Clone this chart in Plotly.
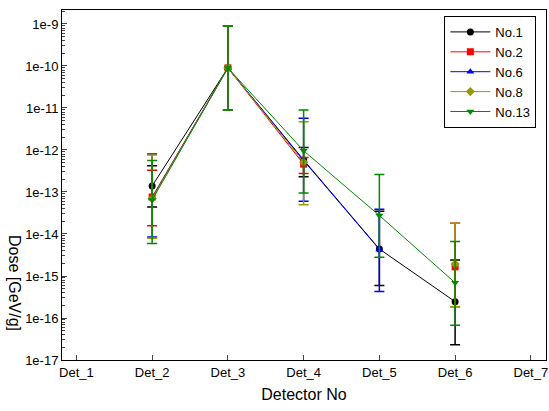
import plotly.graph_objects as go

detectors = [1, 2, 3, 4, 5, 6, 7]
det_labels = ["Det_1", "Det_2", "Det_3", "Det_4", "Det_5", "Det_6", "Det_7"]
x_pos = [2, 3, 4, 5, 6]

names = ["No.1", "No.2", "No.6", "No.8", "No.13"]

no1_val = [1.39e-13, 9.0e-11, 5.8e-13, 4.4e-15, 2.45e-16]
no1_lo = [4.4e-14, 9.0e-12, 2.3e-13, 5.9e-16, 2.3e-17]
no1_hi = [4.2e-13, 9.0e-10, 1.15e-12, 3.5e-14, 2.4e-15]

no2_val = [7.6e-14, 9.0e-11, 4.6e-13, None, 1.65e-15]
no2_lo = [1.58e-14, 9.0e-12, 2.75e-13, None, 1.86e-16]
no2_hi = [3.3e-13, 9.0e-10, 6.6e-13, None, 1.8e-14]

no6_val = [7.2e-14, 9.0e-11, 5.6e-13, 4.3e-15, None]
no6_lo = [8.5e-15, 9.0e-12, 6.0e-14, 4.3e-16, None]
no6_hi = [8.0e-13, 9.0e-10, 5.7e-12, 3.9e-14, None]

no8_val = [7.0e-14, 9.0e-11, 5.1e-13, None, 1.94e-15]
no8_lo = [7.9e-15, 9.0e-12, 5.0e-14, None, 1.86e-16]
no8_hi = [7.6e-13, 9.0e-10, 4.7e-12, None, 1.8e-14]

no13_val = [6.45e-14, 9.0e-11, 9.6e-13, 2.75e-14, 6.9e-16]
no13_lo = [5.9e-15, 9.0e-12, 9.5e-14, 2.8e-15, 6.7e-17]
no13_hi = [5.6e-13, 9.0e-10, 8.9e-12, 2.6e-13, 6.6e-15]

y_tickvals = [1e-17, 1e-16, 1e-15, 1e-14, 1e-13, 1e-12, 1e-11, 1e-10, 1e-9]
y_ticktext = ["1e-17", "1e-16", "1e-15", "1e-14", "1e-13", "1e-12", "1e-11", "1e-10", "1e-9"]

series = [
    (names[0], no1_val, no1_lo, no1_hi, "#000000", "circle"),
    (names[1], no2_val, no2_lo, no2_hi, "#ff0000", "square"),
    (names[2], no6_val, no6_lo, no6_hi, "#0000ff", "triangle-up"),
    (names[3], no8_val, no8_lo, no8_hi, "#999900", "diamond"),
    (names[4], no13_val, no13_lo, no13_hi, "#008a00", "triangle-down"),
]

fig = go.Figure()
for name, val, lo, hi, color, sym in series:
    plus = [None if v is None else h - v for v, h in zip(val, hi)]
    minus = [None if v is None else v - l for v, l in zip(val, lo)]
    fig.add_trace(go.Scatter(
        x=x_pos, y=val, name=name, mode="lines+markers",
        line=dict(color=color, width=1),
        marker=dict(color=color, symbol=sym, size=7),
        error_y=dict(type="data", symmetric=False, array=plus, arrayminus=minus,
                     color=color, thickness=1.5, width=5),
        connectgaps=False,
    ))

font_family = "Arial, Liberation Sans, sans-serif"
fig.update_layout(
    width=549, height=411,
    margin=dict(l=62, r=1, t=10, b=51),
    paper_bgcolor="white", plot_bgcolor="white",
    font=dict(family=font_family, size=13, color="black"),
    showlegend=True,
    legend=dict(x=0.79, y=0.983, xanchor="left", yanchor="top",
                bordercolor="black", borderwidth=1, bgcolor="white",
                font=dict(size=13), tracegroupgap=0, itemwidth=40),
    xaxis=dict(range=[0.81, 7.2], tickmode="array", tickvals=detectors, ticktext=det_labels,
               ticks="inside", ticklen=5, showgrid=False, zeroline=False,
               showline=True, linecolor="black", linewidth=1, mirror=True,
               ticklabeloverflow="allow",
               title=dict(text="Detector No", font=dict(size=16), standoff=10)),
    yaxis=dict(type="log", range=[-17, -8.667], tickmode="array",
               tickvals=y_tickvals, ticktext=y_ticktext,
               ticks="inside", ticklen=5, showgrid=False, zeroline=False,
               showline=True, linecolor="black", linewidth=1, mirror=True,
               minor=dict(ticks="inside", ticklen=3, dtick="D1", showgrid=False)),
    annotations=[dict(text="Dose [GeV/g]", textangle=90, xref="paper", yref="paper",
                      x=-0.097, y=0.22, xanchor="center", yanchor="middle",
                      showarrow=False, font=dict(size=16))],
)

fig.write_html("out.html")
